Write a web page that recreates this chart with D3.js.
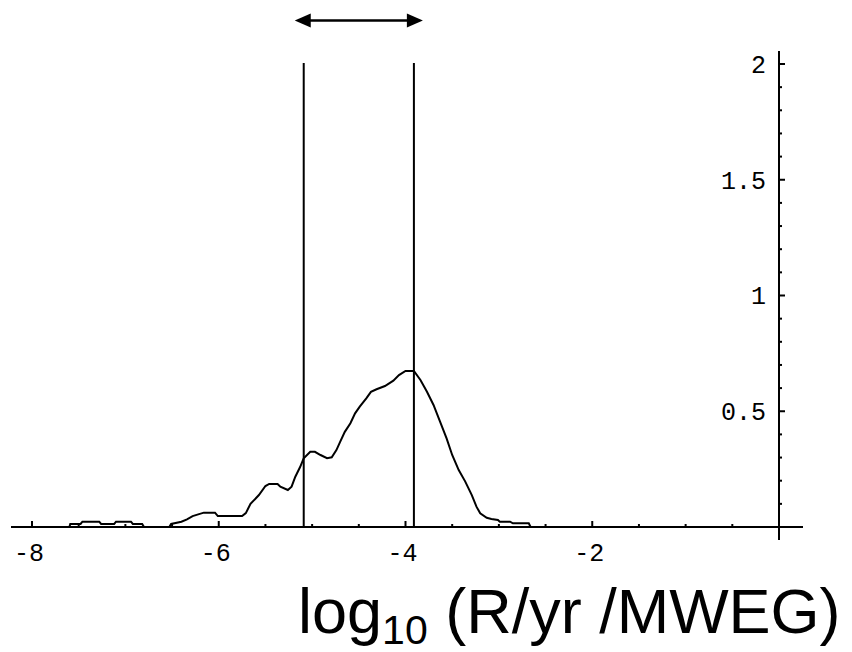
<!DOCTYPE html>
<html>
<head>
<meta charset="utf-8">
<script src="https://cdn.jsdelivr.net/npm/d3@7"></script>
<style>
  html, body { margin: 0; padding: 0; background: #fff; }
  svg { display: block; }
</style>
</head>
<body>
<svg id="chart" width="852" height="652"></svg>
<script>
// ---- data ----
const logRate = [-7.60, -7.59, -7.48, -7.46, -7.28, -7.26, -7.12, -7.10, -6.94, -6.92, -6.82, -6.80,
  -6.53, -6.51, -6.40, -6.34, -6.28, -6.16, -6.04, -6.01, -5.75, -5.71, -5.66, -5.57, -5.50, -5.46,
  -5.37, -5.34, -5.26, -5.22, -5.18, -5.13, -5.09, -5.02, -4.97, -4.91, -4.84, -4.79, -4.74, -4.70,
  -4.65, -4.59, -4.54, -4.49, -4.42, -4.37, -4.31, -4.22, -4.13, -4.07, -4.00, -3.91, -3.84, -3.77,
  -3.70, -3.63, -3.56, -3.50, -3.43, -3.36, -3.29, -3.24, -3.20, -3.13, -3.08, -3.01, -2.99, -2.88,
  -2.85, -2.68, -2.66];
const density = [0, 0.013, 0.013, 0.023, 0.023, 0.013, 0.013, 0.023, 0.023, 0.013, 0.013, 0,
  0, 0.013, 0.023, 0.033, 0.047, 0.062, 0.062, 0.047, 0.047, 0.060, 0.100, 0.138, 0.177, 0.186,
  0.186, 0.174, 0.160, 0.174, 0.217, 0.258, 0.297, 0.325, 0.325, 0.311, 0.297, 0.301, 0.332, 0.368,
  0.411, 0.448, 0.491, 0.520, 0.556, 0.584, 0.595, 0.609, 0.632, 0.656, 0.674, 0.674, 0.635, 0.584,
  0.527, 0.455, 0.383, 0.311, 0.246, 0.196, 0.138, 0.088, 0.059, 0.040, 0.035, 0.030, 0.023, 0.023,
  0.016, 0.016, 0];
const xTickLabels = [-8, -6, -4, -2];
const yTickLabels = [0.5, 1, 1.5, 2];
const markerLines = [-5.09, -3.91];

// ---- scales ----
const svg = d3.select("#chart");
svg.append("rect").attr("width", 852).attr("height", 652).attr("fill", "#fff");

const x = d3.scaleLinear().domain([-8, 0]).range([32, 779]);
const y = d3.scaleLinear().domain([0, 2]).range([527, 64]);

const ink = "#000";
const monoFont = "'Liberation Mono', 'DejaVu Sans Mono', monospace";

// ---- axes ----
const g = svg.append("g");
g.append("line").attr("x1", 11).attr("x2", 803).attr("y1", y(0)).attr("y2", y(0))
  .attr("stroke", ink).attr("stroke-width", 2);
g.append("line").attr("x1", x(0)).attr("x2", x(0)).attr("y1", 51).attr("y2", 540)
  .attr("stroke", ink).attr("stroke-width", 2);

// x ticks (upward)
const xMinor = d3.range(-8, 0, 0.5);
xMinor.forEach(v => {
  const major = Math.abs(v % 2) < 1e-9;
  g.append("line").attr("x1", x(v)).attr("x2", x(v))
    .attr("y1", y(0)).attr("y2", y(0) - (major ? 6 : 3))
    .attr("stroke", ink).attr("stroke-width", 2);
});
// y ticks (to the right)
const yMinor = d3.range(1, 21).map(i => i / 10);
yMinor.forEach(v => {
  const major = Math.abs((v * 10) % 5) < 1e-6;
  g.append("line").attr("x1", x(0)).attr("x2", x(0) + (major ? 6 : 3))
    .attr("y1", y(v)).attr("y2", y(v))
    .attr("stroke", ink).attr("stroke-width", 2);
});

// x tick labels
g.selectAll(".xl").data(xTickLabels).enter().append("text")
  .attr("x", d => x(d) - 3).attr("y", 561)
  .attr("text-anchor", "middle")
  .attr("font-family", monoFont).attr("font-size", 25)
  .attr("fill", ink)
  .text(d => String(d));

// y tick labels
g.selectAll(".yl").data(yTickLabels).enter().append("text")
  .attr("x", 766).attr("y", d => y(d))
  .attr("dy", "0.35em")
  .attr("text-anchor", "end")
  .attr("font-family", monoFont).attr("font-size", 25)
  .attr("fill", ink)
  .text(d => String(d));

// ---- curve ----
const pts = logRate.map((v, i) => [v, density[i]]);
const line = d3.line().x(d => x(d[0])).y(d => y(d[1]));
svg.append("path").attr("d", line(pts))
  .attr("fill", "none").attr("stroke", ink).attr("stroke-width", 2)
  .attr("stroke-linejoin", "miter");

// ---- vertical marker lines ----
markerLines.forEach(v => {
  svg.append("line").attr("x1", x(v)).attr("x2", x(v))
    .attr("y1", y(0)).attr("y2", y(2) - 1)
    .attr("stroke", ink).attr("stroke-width", 2);
});

// ---- double arrow ----
const ay = 20.5;
const ax1 = x(markerLines[0]) - 9, ax2 = x(markerLines[1]) + 9;
const headL = 16, headH = 7;
svg.append("line").attr("x1", ax1 + headL - 2).attr("x2", ax2 - headL + 2)
  .attr("y1", ay).attr("y2", ay).attr("stroke", ink).attr("stroke-width", 2.5);
svg.append("path")
  .attr("d", `M${ax1},${ay} L${ax1 + headL},${ay - headH} L${ax1 + headL},${ay + headH} Z`)
  .attr("fill", ink);
svg.append("path")
  .attr("d", `M${ax2},${ay} L${ax2 - headL},${ay - headH} L${ax2 - headL},${ay + headH} Z`)
  .attr("fill", ink);

// ---- axis title ----
const title = svg.append("text")
  .attr("x", 298).attr("y", 633)
  .attr("font-family", "'Liberation Sans', Arial, sans-serif")
  .attr("font-size", 63).attr("fill", ink);
title.append("tspan").text("log");
title.append("tspan").attr("font-size", 41).attr("dy", 11).text("10");
title.append("tspan").attr("dy", -11).text(" (R/yr /MWEG)");
</script>
</body>
</html>
